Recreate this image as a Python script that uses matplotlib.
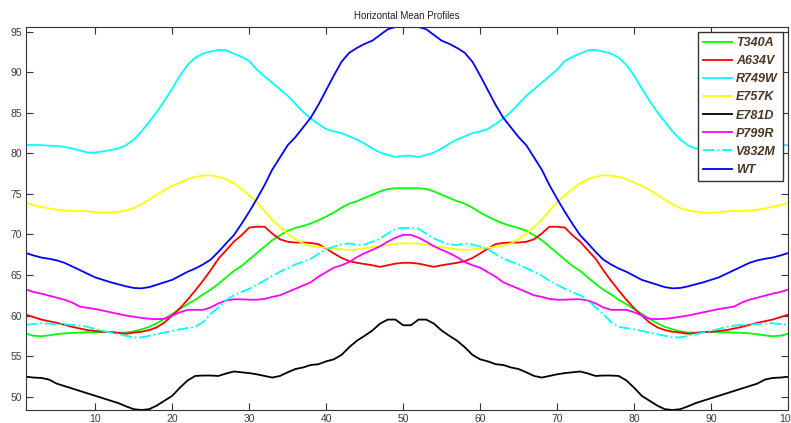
import numpy as np
import matplotlib
matplotlib.use("Agg")
import matplotlib.pyplot as plt

# Sample position along the horizontal profile
positions = list(range(1, 101))

t340a = [57.75, 57.5, 57.45, 57.55, 57.7, 57.8, 57.85, 57.9, 57.95, 57.95,
         57.95, 57.95, 57.9, 57.9, 58.05, 58.3, 58.6, 59.05, 59.6, 60.2,
         60.8, 61.4, 61.95, 62.6, 63.2, 63.9, 64.7, 65.5, 66.1, 66.9,
         67.7, 68.5, 69.3, 69.9, 70.45, 70.8, 71.05, 71.35, 71.75, 72.2,
         72.7, 73.3, 73.8, 74.1, 74.5, 74.9, 75.3, 75.6, 75.7, 75.7,
         75.7, 75.7, 75.6, 75.3, 74.9, 74.5, 74.1, 73.8, 73.3, 72.7,
         72.2, 71.75, 71.35, 71.05, 70.8, 70.45, 69.9, 69.3, 68.5, 67.7,
         66.9, 66.1, 65.5, 64.7, 63.9, 63.2, 62.6, 61.95, 61.4, 60.8,
         60.2, 59.6, 59.05, 58.6, 58.3, 58.05, 57.9, 57.9, 57.95, 57.95,
         57.95, 57.95, 57.9, 57.85, 57.8, 57.7, 57.55, 57.45, 57.5, 57.75]

a634v = [60.1, 59.8, 59.5, 59.3, 59.1, 58.85, 58.6, 58.4, 58.2, 58.1,
         58.0, 57.95, 57.85, 57.75, 57.9, 58.0, 58.2, 58.55, 59.15, 60.0,
         60.9, 61.95, 63.1, 64.3, 65.6, 67.0, 68.05, 69.1, 69.9, 70.85,
         70.95, 70.95, 70.1, 69.4, 69.1, 69.0, 69.0, 68.95, 68.8, 68.25,
         67.65, 67.1, 66.7, 66.5, 66.35, 66.2, 66.0, 66.2, 66.4, 66.5,
         66.5, 66.4, 66.2, 66.0, 66.2, 66.35, 66.5, 66.7, 67.1, 67.65,
         68.25, 68.8, 68.95, 69.0, 69.0, 69.1, 69.4, 70.1, 70.95, 70.95,
         70.85, 69.9, 69.1, 68.05, 67.0, 65.6, 64.3, 63.1, 61.95, 60.9,
         60.0, 59.15, 58.55, 58.2, 58.0, 57.9, 57.75, 57.85, 57.95, 58.0,
         58.1, 58.2, 58.4, 58.6, 58.85, 59.1, 59.3, 59.5, 59.8, 60.1]

r749w = [81.0, 81.05, 81.0, 80.95, 80.9, 80.8, 80.6, 80.35, 80.1, 80.1,
         80.25, 80.4, 80.6, 81.0, 81.7, 82.7, 83.9, 85.1, 86.5, 88.0,
         89.6, 90.9, 91.8, 92.3, 92.55, 92.75, 92.7, 92.3, 91.9, 91.4,
         90.3, 89.5, 88.7, 87.9, 87.1, 86.1, 85.1, 84.3, 83.6, 83.0,
         82.7, 82.5, 82.1, 81.7, 81.2, 80.6, 80.1, 79.8, 79.55, 79.7,
         79.7, 79.55, 79.8, 80.1, 80.6, 81.2, 81.7, 82.1, 82.5, 82.7,
         83.0, 83.6, 84.3, 85.1, 86.1, 87.1, 87.9, 88.7, 89.5, 90.3,
         91.4, 91.9, 92.3, 92.7, 92.75, 92.55, 92.3, 91.8, 90.9, 89.6,
         88.0, 86.5, 85.1, 83.9, 82.7, 81.7, 81.0, 80.6, 80.4, 80.25,
         80.1, 80.1, 80.35, 80.6, 80.8, 80.9, 80.95, 81.0, 81.05, 81.0]

e757k = [73.9, 73.6, 73.4, 73.2, 73.05, 72.95, 72.9, 72.9, 72.85, 72.75,
         72.65, 72.7, 72.8, 72.95, 73.25, 73.7, 74.3, 74.9, 75.5, 76.0,
         76.4, 76.8, 77.1, 77.25, 77.3, 77.1, 76.8, 76.3, 75.6, 74.8,
         74.0, 72.9, 71.8, 70.9, 70.1, 69.4, 68.9, 68.6, 68.45, 68.35,
         68.25, 68.15, 68.1, 68.15, 68.3, 68.45, 68.55, 68.7, 68.85, 68.9,
         68.9, 68.85, 68.7, 68.55, 68.45, 68.3, 68.15, 68.1, 68.15, 68.25,
         68.35, 68.45, 68.6, 68.9, 69.4, 70.1, 70.9, 71.8, 72.9, 74.0,
         74.8, 75.6, 76.3, 76.8, 77.1, 77.3, 77.25, 77.1, 76.8, 76.4,
         76.0, 75.5, 74.9, 74.3, 73.7, 73.25, 72.95, 72.8, 72.7, 72.65,
         72.75, 72.85, 72.9, 72.9, 72.95, 73.05, 73.2, 73.4, 73.6, 73.9]

e781d = [52.45, 52.35, 52.3, 52.1, 51.6, 51.3, 51.0, 50.7, 50.4, 50.1,
         49.8, 49.5, 49.2, 48.8, 48.45, 48.35, 48.45, 48.9, 49.5, 50.1,
         51.1, 52.0, 52.55, 52.6, 52.6, 52.55, 52.85, 53.1, 53.0, 52.9,
         52.75, 52.55, 52.35, 52.55, 53.0, 53.4, 53.6, 53.9, 54.0, 54.35,
         54.6, 55.15, 56.1, 56.9, 57.5, 58.15, 59.0, 59.5, 59.5, 58.8,
         58.8, 59.5, 59.5, 59.0, 58.15, 57.5, 56.9, 56.1, 55.15, 54.6,
         54.35, 54.0, 53.9, 53.6, 53.4, 53.0, 52.55, 52.35, 52.55, 52.75,
         52.9, 53.0, 53.1, 52.85, 52.55, 52.6, 52.6, 52.55, 52.0, 51.1,
         50.1, 49.5, 48.9, 48.45, 48.35, 48.45, 48.8, 49.2, 49.5, 49.8,
         50.1, 50.4, 50.7, 51.0, 51.3, 51.6, 52.1, 52.3, 52.35, 52.45]

p799r = [63.2, 62.9, 62.7, 62.45, 62.2, 61.95, 61.6, 61.1, 60.95, 60.8,
         60.6, 60.4, 60.2, 60.0, 59.85, 59.7, 59.6, 59.55, 59.6, 60.0,
         60.4, 60.7, 60.7, 60.7, 61.0, 61.5, 61.85, 62.0, 62.0, 61.95,
         61.95, 62.05, 62.3, 62.5, 62.9, 63.3, 63.7, 64.1, 64.8, 65.35,
         65.9, 66.2, 66.6, 67.2, 67.7, 68.1, 68.55, 69.1, 69.6, 69.95,
         69.95, 69.6, 69.1, 68.55, 68.1, 67.7, 67.2, 66.6, 66.2, 65.9,
         65.35, 64.8, 64.1, 63.7, 63.3, 62.9, 62.5, 62.3, 62.05, 61.95,
         61.95, 62.0, 62.0, 61.85, 61.5, 61.0, 60.7, 60.7, 60.7, 60.4,
         60.0, 59.6, 59.55, 59.6, 59.7, 59.85, 60.0, 60.2, 60.4, 60.6,
         60.8, 60.95, 61.1, 61.6, 61.95, 62.2, 62.45, 62.7, 62.9, 63.2]

v832m = [58.85, 58.95, 59.05, 59.0, 58.95, 58.9, 58.85, 58.75, 58.6, 58.35,
         58.1, 57.9, 57.7, 57.5, 57.3, 57.3, 57.5, 57.7, 57.9, 58.1,
         58.3, 58.45, 58.6, 59.2, 60.2, 61.0, 61.9, 62.5, 62.9, 63.3,
         63.8, 64.3, 64.9, 65.4, 65.85, 66.3, 66.65, 67.0, 67.6, 68.15,
         68.5, 68.75, 68.9, 68.7, 68.75, 69.1, 69.5, 70.1, 70.7, 70.8,
         70.8, 70.7, 70.1, 69.5, 69.1, 68.75, 68.7, 68.9, 68.75, 68.5,
         68.15, 67.6, 67.0, 66.65, 66.3, 65.85, 65.4, 64.9, 64.3, 63.8,
         63.3, 62.9, 62.5, 61.9, 61.0, 60.2, 59.2, 58.6, 58.45, 58.3,
         58.1, 57.9, 57.7, 57.5, 57.3, 57.3, 57.5, 57.7, 57.9, 58.1,
         58.35, 58.6, 58.75, 58.85, 58.9, 58.95, 59.0, 59.05, 58.95, 58.85]

wt = [67.7, 67.4, 67.15, 67.0, 66.8, 66.5, 66.05, 65.6, 65.15, 64.7,
      64.4, 64.1, 63.85, 63.6, 63.4, 63.35, 63.5, 63.8, 64.1, 64.4,
      64.9, 65.4, 65.8, 66.3, 66.9, 67.85, 68.9, 69.9, 71.3, 72.8,
      74.4, 76.1, 78.0, 79.5, 81.0, 82.0, 83.2, 84.4, 86.0, 87.8,
      89.6, 91.3, 92.4, 93.0, 93.5, 93.9, 94.6, 95.3, 95.58, 95.58,
      95.58, 95.58, 95.3, 94.6, 93.9, 93.5, 93.0, 92.4, 91.3, 89.6,
      87.8, 86.0, 84.4, 83.2, 82.0, 81.0, 79.5, 78.0, 76.1, 74.4,
      72.8, 71.3, 69.9, 68.9, 67.85, 66.9, 66.3, 65.8, 65.4, 64.9,
      64.4, 64.1, 63.8, 63.5, 63.35, 63.4, 63.6, 63.85, 64.1, 64.4,
      64.7, 65.15, 65.6, 66.05, 66.5, 66.8, 67.0, 67.15, 67.4, 67.7]

series_names = ["T340A", "A634V", "R749W", "E757K", "E781D", "P799R", "V832M", "WT"]
series_values = [t340a, a634v, r749w, e757k, e781d, p799r, v832m, wt]
series_colors = ["#00ff00", "#ff0000", "#00ffff", "#ffff00", "#000000", "#ff00ff", "#00ffff", "#0000ff"]
series_styles = ["-", "-", "-", "-", "-", "-", "-.", "-"]

x_ticks = [10, 20, 30, 40, 50, 60, 70, 80, 90, 100]
y_ticks = [50, 55, 60, 65, 70, 75, 80, 85, 90, 95]

plt.rcParams["font.family"] = ["Liberation Sans", "DejaVu Sans"]

W, H = 791, 423
fig = plt.figure(figsize=(W / 100, H / 100), dpi=100)
ax = fig.add_axes([26 / W, 1 - 410 / H, (788 - 26) / W, (410 - 27) / H])

for name, vals, col, ls in zip(series_names, series_values, series_colors, series_styles):
    ax.plot(positions, vals, color=col, linestyle=ls, linewidth=1.3, label=name)

ax.margins(x=0, y=0)
ax.set_xticks(x_ticks)
ax.set_yticks(y_ticks)
ax.tick_params(direction="in", length=5, width=0.8, top=True, right=True,
               labelsize=7.5, labelcolor="#3a3a3a", color="#333333", pad=3)
for spine in ax.spines.values():
    spine.set_color("#333333")
    spine.set_linewidth(0.8)

ax.set_title("Horizontal Mean Profiles", fontsize=7, color="#222222", pad=6)

leg = ax.legend(loc="upper right", bbox_to_anchor=(0.9934, 0.9869), fancybox=False,
                framealpha=1, edgecolor="#333333", handlelength=2.3,
                handletextpad=0.35, labelspacing=0.49, borderpad=0.4,
                borderaxespad=0.0,
                prop={"style": "italic", "weight": "bold", "size": 9})
leg.get_frame().set_linewidth(1.0)
for txt in leg.get_texts():
    txt.set_color("#4a3520")

fig.savefig("out.png", dpi=100)
